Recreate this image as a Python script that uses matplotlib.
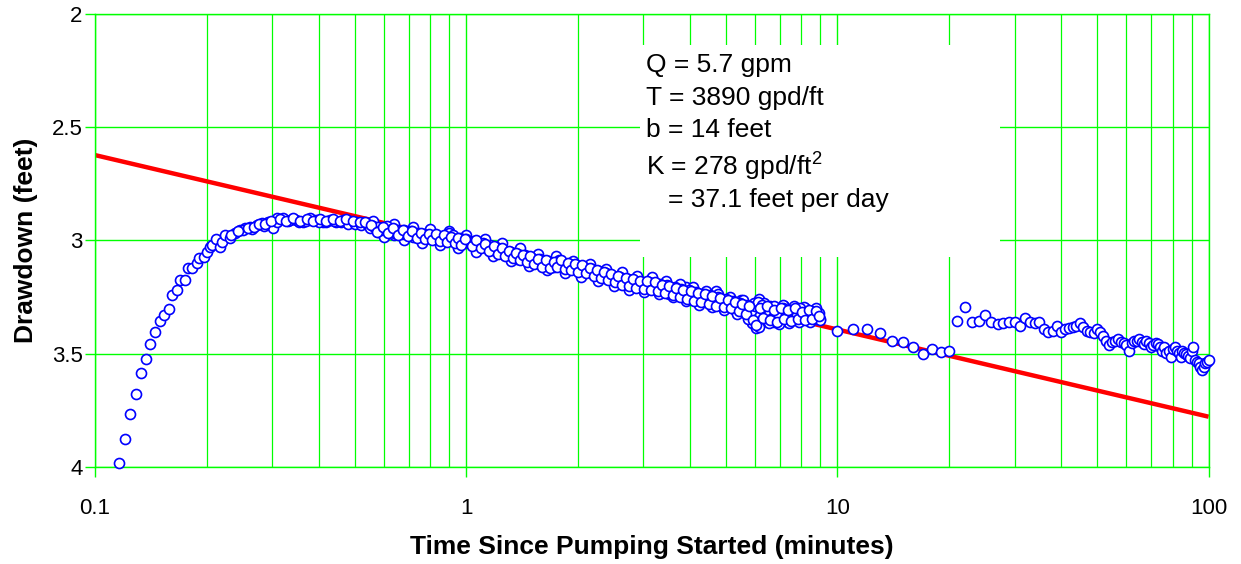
import matplotlib.pyplot as plt
from matplotlib.ticker import FixedLocator, NullFormatter
from matplotlib.patches import Rectangle

plt.rcParams['font.family'] = ['Liberation Sans', 'DejaVu Sans']
plt.rcParams['mathtext.fontset'] = 'custom'
plt.rcParams['mathtext.rm'] = 'Liberation Sans'

# early rise of the well (minutes, feet)
t_early = [0.1162, 0.1205, 0.1242, 0.1289, 0.1327, 0.1372, 0.1408, 0.1453, 0.1496, 0.1533,
           0.1581, 0.1614, 0.1659, 0.1693, 0.1747, 0.1776, 0.1827, 0.1877, 0.1905, 0.1968,
           0.1998, 0.2039, 0.2061, 0.2117, 0.2169, 0.2192, 0.2237, 0.2307, 0.2380, 0.2455,
           0.2532, 0.2612, 0.2723, 0.2809, 0.2926, 0.3017, 0.3082, 0.3213, 0.3347, 0.3488,
           0.3634, 0.3788, 0.3949, 0.4115, 0.4289, 0.4470, 0.4656, 0.4853, 0.5058, 0.5272,
           0.250, 0.265, 0.285, 0.310, 0.330, 0.355, 0.370, 0.400, 0.420, 0.440,
           0.460, 0.480, 0.500, 0.520]
s_early = [3.984, 3.878, 3.767, 3.676, 3.586, 3.525, 3.458, 3.403, 3.357, 3.329,
           3.302, 3.241, 3.219, 3.174, 3.174, 3.123, 3.123, 3.098, 3.079, 3.072,
           3.049, 3.027, 3.020, 2.995, 3.027, 3.005, 2.976, 2.990, 2.968, 2.954,
           2.946, 2.939, 2.932, 2.924, 2.917, 2.946, 2.902, 2.902, 2.909, 2.909,
           2.917, 2.902, 2.909, 2.917, 2.909, 2.917, 2.909, 2.914, 2.917, 2.924,
           2.955, 2.950, 2.935, 2.920, 2.915, 2.920, 2.912, 2.918, 2.920, 2.915,
           2.920, 2.925, 2.925, 2.930]

# dense logging period, first pass
t_dense = [0.54, 0.55, 0.56, 0.57, 0.58, 0.59, 0.60, 0.61, 0.62, 0.63, 0.64, 0.65, 0.66,
           0.67, 0.68, 0.69, 0.70, 0.71, 0.72, 0.73, 0.74, 0.75, 0.76, 0.77, 0.78, 0.79,
           0.80, 0.82, 0.84, 0.86, 0.88, 0.90, 0.92, 0.94, 0.96, 0.98, 1.00,
           1.02, 1.05, 1.08, 1.11, 1.14, 1.17, 1.20, 1.23, 1.26, 1.29, 1.32, 1.35, 1.38,
           1.41, 1.44, 1.47, 1.50, 1.54, 1.58, 1.62, 1.66, 1.70, 1.74, 1.78, 1.82, 1.86,
           1.90, 1.94, 1.98,
           2.03, 2.08, 2.13, 2.18, 2.23, 2.28, 2.33, 2.38, 2.43, 2.48, 2.54, 2.60, 2.66,
           2.72, 2.78, 2.84, 2.90, 2.97, 3.04, 3.11, 3.18, 3.25, 3.32, 3.40, 3.48, 3.56,
           3.64, 3.72, 3.80, 3.89, 3.98, 4.07, 4.16, 4.25, 4.35, 4.45, 4.55, 4.66, 4.77,
           4.88, 5.00,
           5.12, 5.24, 5.36, 5.48, 5.60, 5.72, 5.85, 5.98, 6.11, 6.25, 6.39, 6.53, 6.67,
           6.82, 6.97, 7.12, 7.28, 7.44, 7.60, 7.77, 7.94, 8.11, 8.29, 8.47, 8.65, 8.83, 9.00]
s_dense = [2.925, 2.945, 2.935, 2.950, 2.940, 2.955, 2.945, 2.935, 2.958, 2.948, 2.965, 2.952, 2.962,
           2.970, 2.955, 2.968, 2.975, 2.960, 2.972, 2.980, 2.968, 2.978, 2.985, 2.972, 2.980, 2.990,
           2.975, 2.985, 2.978, 2.992, 2.982, 2.965, 2.975, 3.000, 2.990, 3.005, 2.995,
           3.010, 3.002, 3.020, 3.012, 3.030, 3.040, 3.028, 3.048, 3.040, 3.058, 3.050, 3.068, 3.060,
           3.075, 3.066, 3.085, 3.078, 3.092, 3.082, 3.100, 3.090, 3.108, 3.095, 3.085, 3.100, 3.112,
           3.102, 3.118, 3.110,
           3.125, 3.115, 3.135, 3.125, 3.145, 3.135, 3.150, 3.142, 3.165, 3.155, 3.172, 3.160, 3.180,
           3.170, 3.190, 3.178, 3.195, 3.182, 3.200, 3.185, 3.195, 3.205, 3.190, 3.210, 3.198, 3.215,
           3.205, 3.225, 3.212, 3.232, 3.220, 3.240, 3.228, 3.248, 3.235, 3.255, 3.240, 3.262, 3.250,
           3.270, 3.258,
           3.280, 3.268, 3.292, 3.278, 3.300, 3.285, 3.310, 3.290, 3.270, 3.285, 3.300, 3.325, 3.340,
           3.310, 3.330, 3.300, 3.320, 3.345, 3.310, 3.330, 3.300, 3.325, 3.340, 3.310, 3.330, 3.345, 3.350]

# dense logging period, readings in between
t_dense2 = [0.535, 0.555, 0.575, 0.595, 0.615, 0.635, 0.655, 0.675, 0.695, 0.715, 0.735, 0.755,
            0.775, 0.795, 0.81, 0.83, 0.85, 0.87, 0.89, 0.91, 0.93, 0.95, 0.97, 0.99,
            1.035, 1.065, 1.095, 1.125, 1.155, 1.185, 1.215, 1.245, 1.275, 1.305, 1.335, 1.365,
            1.395, 1.425, 1.455, 1.485, 1.52, 1.56, 1.60, 1.64, 1.68, 1.72, 1.76, 1.80, 1.84,
            1.88, 1.92, 1.96, 2.00,
            2.055, 2.105, 2.155, 2.205, 2.255, 2.305, 2.355, 2.405, 2.455, 2.51, 2.57, 2.63,
            2.69, 2.75, 2.81, 2.87, 2.935, 3.005, 3.075, 3.145, 3.215, 3.285, 3.36, 3.44, 3.52,
            3.60, 3.68, 3.76, 3.845, 3.935, 4.025, 4.115, 4.205, 4.30, 4.40, 4.50, 4.60, 4.71,
            4.82, 4.94, 5.06,
            5.18, 5.30, 5.42, 5.54, 5.66, 5.78, 5.91, 6.04, 6.18, 6.32, 6.46, 6.60, 6.74,
            6.89, 7.04, 7.20, 7.36, 7.52, 7.68, 7.85, 8.02, 8.20, 8.38, 8.56, 8.74, 8.92]
s_dense2 = [2.918, 2.930, 2.962, 2.940, 2.968, 2.945, 2.975, 2.952, 2.982, 2.958, 2.990, 2.965,
            2.995, 2.970, 3.000, 2.972, 3.002, 2.975, 3.005, 2.985, 3.012, 2.988, 3.018, 2.992,
            3.025, 3.000, 3.035, 3.015, 3.045, 3.025, 3.058, 3.035, 3.068, 3.045, 3.078, 3.055,
            3.088, 3.062, 3.095, 3.070, 3.105, 3.080, 3.115, 3.085, 3.120, 3.095, 3.118, 3.085, 3.125,
            3.100, 3.132, 3.105, 3.138,
            3.110, 3.145, 3.120, 3.155, 3.130, 3.165, 3.138, 3.175, 3.148, 3.185, 3.158, 3.195,
            3.165, 3.200, 3.172, 3.210, 3.178, 3.215, 3.180, 3.220, 3.185, 3.225, 3.195, 3.232, 3.200,
            3.240, 3.210, 3.250, 3.218, 3.258, 3.225, 3.265, 3.232, 3.272, 3.238, 3.280, 3.245, 3.288,
            3.255, 3.295, 3.262,
            3.300, 3.270, 3.312, 3.280, 3.325, 3.290, 3.350, 3.372, 3.300, 3.340, 3.290, 3.350, 3.305,
            3.360, 3.300, 3.345, 3.305, 3.355, 3.300, 3.345, 3.315, 3.350, 3.305, 3.345, 3.310, 3.335]

# dense logging period, readings at the edges of the scatter
t_dense3 = [0.56, 0.60, 0.64, 0.68, 0.72, 0.76, 0.80, 0.85, 0.90, 0.95, 1.00, 1.06,
            1.12, 1.18, 1.25, 1.32, 1.40, 1.48, 1.56, 1.65, 1.74, 1.84, 1.94, 2.04,
            2.15, 2.26, 2.38, 2.50, 2.62, 2.75, 2.88, 3.02, 3.16, 3.30, 3.45, 3.60,
            3.76, 3.92, 4.08, 4.25, 4.42, 4.60, 4.78, 4.96, 5.15, 5.35, 5.55, 5.75,
            5.95, 6.15, 6.35, 6.55, 6.75, 6.95, 7.15, 7.40, 7.65, 7.90, 8.15, 8.45,
            8.75, 8.98]
s_dense3 = [2.912, 2.985, 2.925, 3.000, 2.940, 3.012, 2.950, 3.022, 2.960, 3.035, 2.975, 3.050,
            2.995, 3.068, 3.012, 3.090, 3.035, 3.112, 3.058, 3.130, 3.070, 3.145, 3.092, 3.160,
            3.105, 3.180, 3.125, 3.200, 3.140, 3.218, 3.155, 3.228, 3.160, 3.238, 3.178, 3.250,
            3.192, 3.268, 3.205, 3.285, 3.222, 3.295, 3.235, 3.305, 3.250, 3.325, 3.262, 3.345,
            3.275, 3.380, 3.275, 3.365, 3.290, 3.370, 3.285, 3.365, 3.290, 3.362, 3.295, 3.360,
            3.300, 3.345]

# extra readings that thicken the band
t_extra = [0.58, 0.64, 0.72, 0.81, 0.89, 0.97, 1.07, 1.16, 1.25, 1.37, 1.48, 1.60, 1.72,
           1.88, 2.05, 2.20, 2.36, 2.52, 2.70, 2.88, 3.08, 3.30, 3.52, 3.76, 4.00, 4.30,
           4.60, 4.95, 5.30, 5.65, 5.90, 6.05, 6.20, 6.45, 6.75, 7.05, 7.35, 7.70, 8.00,
           8.40, 8.80, 2.62, 3.14, 3.90, 4.70, 5.50, 6.15, 6.60, 7.20, 8.20, 8.90,
           0.232, 0.242, 0.258, 0.268, 0.277, 0.287, 0.297, 0.315, 0.327, 0.341, 0.356,
           0.372, 0.387, 0.403, 0.420, 0.438, 0.456, 0.475, 0.495, 0.516]
s_extra = [2.962, 2.975, 2.985, 2.995, 2.998, 3.015, 3.030, 3.020, 3.058, 3.080, 3.095, 3.110, 3.115,
           3.125, 3.140, 3.150, 3.165, 3.180, 3.195, 3.205, 3.212, 3.222, 3.235, 3.245, 3.255, 3.265,
           3.275, 3.290, 3.305, 3.320, 3.365, 3.385, 3.370, 3.355, 3.360, 3.350, 3.358, 3.345, 3.352,
           3.348, 3.335, 3.150, 3.172, 3.205, 3.225, 3.262, 3.260, 3.290, 3.288, 3.300, 3.320,
           2.975, 2.960, 2.945, 2.940, 2.928, 2.925, 2.912, 2.905, 2.915, 2.900, 2.912,
           2.905, 2.915, 2.905, 2.912, 2.905, 2.915, 2.907, 2.912, 2.920]

# one reading per minute after 10 minutes
t_late = [10, 11, 12, 13, 14, 15, 16, 17, 18, 19, 20, 21, 22, 23, 24, 25, 26, 27, 28, 29,
          30, 31, 32, 33, 34, 35, 36, 37, 38, 39, 40, 41, 42, 43, 44, 45, 46, 47, 48, 49,
          50, 51, 52, 53, 54, 55, 56, 57, 58, 59, 60, 61, 62, 63, 64, 65, 66, 67, 68, 69,
          70, 71, 72, 73, 74, 75, 76, 77, 78, 79, 80, 81, 82, 83, 84, 85, 86, 87, 88, 89,
          90, 91, 92, 93, 94, 95, 96, 97, 98, 99, 100]
s_late = [3.400, 3.392, 3.391, 3.410, 3.442, 3.447, 3.472, 3.501, 3.480, 3.491,
          3.486, 3.354, 3.295, 3.361, 3.354, 3.329, 3.361, 3.369, 3.366, 3.361,
          3.361, 3.376, 3.344, 3.361, 3.366, 3.361, 3.391, 3.405, 3.398, 3.376,
          3.405, 3.391, 3.385, 3.380, 3.376, 3.366, 3.380, 3.398, 3.405, 3.410,
          3.391, 3.405, 3.420, 3.442, 3.461, 3.447, 3.442, 3.436, 3.447, 3.454,
          3.461, 3.486, 3.454, 3.442, 3.442, 3.436, 3.447, 3.458, 3.442, 3.454,
          3.469, 3.461, 3.454, 3.458, 3.469, 3.486, 3.472, 3.498, 3.486, 3.513,
          3.480, 3.472, 3.490, 3.498, 3.513, 3.486, 3.498, 3.500, 3.510, 3.520,
          3.486, 3.472, 3.528, 3.535, 3.540, 3.557, 3.572, 3.557, 3.542, 3.535, 3.528]

# straight-line (Cooper-Jacob) fit
fit_t = [0.1, 100]
fit_s = [2.623, 3.778]

info_lines = ["Q = 5.7 gpm", "T = 3890 gpd/ft", "b = 14 feet", "K = 278 gpd/ft$^{2}$"]
info_last = "= 37.1 feet per day"

xticks = [0.1, 1, 10, 100]
xtick_labels = ["0.1", "1", "10", "100"]
yticks = [2, 2.5, 3, 3.5, 4]
ytick_labels = ["2", "2.5", "3", "3.5", "4"]

green = "#00ff00"

fig = plt.figure(figsize=(12.41, 5.64), dpi=100)
ax = fig.add_axes([0.0766, 0.172, 0.8973, 0.8032])

ax.set_xscale("log")
ax.set_xlim(0.1, 100)
ax.set_ylim(4, 2)

ax.xaxis.set_major_locator(FixedLocator(xticks))
ax.set_xticklabels(xtick_labels)
minors = [m * 10.0 ** e for e in (-1, 0, 1) for m in range(2, 10)]
ax.xaxis.set_minor_locator(FixedLocator(minors))
ax.xaxis.set_minor_formatter(NullFormatter())
ax.set_yticks(yticks)
ax.set_yticklabels(ytick_labels)

ax.grid(True, which="major", color=green, linewidth=1.0, zorder=0)
ax.grid(True, which="minor", axis="x", color=green, linewidth=0.9, zorder=0)
ax.set_axisbelow(True)
for sp in ax.spines.values():
    sp.set_color(green)
    sp.set_linewidth(1.0)

ax.tick_params(axis="both", which="major", direction="out", length=7, color=green,
               labelsize=16, width=1)
ax.tick_params(axis="x", which="major", pad=15)
ax.tick_params(axis="y", which="major", pad=2)
ax.tick_params(axis="x", which="minor", length=0)

# white box behind the notes
ax.add_patch(Rectangle((0.4894, 0.4636), 0.3234, 0.468, transform=ax.transAxes,
                       facecolor="white", edgecolor="none", zorder=1))

ax.plot(fit_t, fit_s, color="red", linewidth=3.2, zorder=2, solid_capstyle="butt")

mk = dict(marker="o", linestyle="none", markersize=7.2, markerfacecolor="white",
          markeredgecolor="blue", markeredgewidth=1.2, zorder=3, clip_on=False)
ax.plot(t_early, s_early, **mk)
ax.plot(t_extra, s_extra, **mk)
ax.plot(t_dense3, s_dense3, **mk)
ax.plot(t_dense, s_dense, **mk)
ax.plot(t_dense2, s_dense2, **mk)
ax.plot(t_late, s_late, **mk)

ys = [0.872, 0.799, 0.728, 0.645]
for y, line in zip(ys, info_lines):
    ax.text(0.4948, y, line, transform=ax.transAxes, fontsize=19, va="baseline", zorder=4)
ax.text(0.5146, 0.574, info_last, transform=ax.transAxes, fontsize=19, va="baseline", zorder=4)

ax.set_xlabel("Time Since Pumping Started (minutes)", fontsize=19, fontweight="bold", labelpad=12)
ax.set_ylabel("Drawdown (feet)", fontsize=19, fontweight="bold", labelpad=10)

fig.savefig("out.png", dpi=100)
